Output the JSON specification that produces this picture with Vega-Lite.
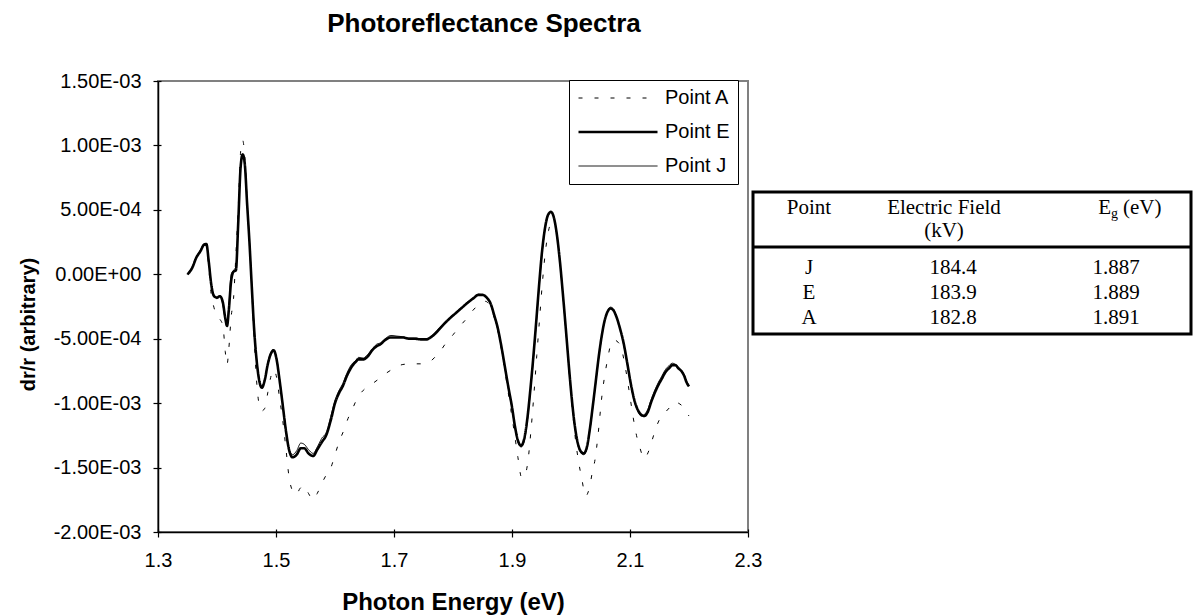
{
  "$schema": "https://vega.github.io/schema/vega-lite/v6.json",
  "background": "white",
  "padding": {"left": 17, "top": 10, "right": 0, "bottom": 0},
  "bounds": "flush",
  "spacing": 5,
  "config": {"font": "Liberation Sans", "view": {"stroke": null}},
  "datasets": {
    "spectra": [
      {"E":1.350,"v":0,"s":"Point E"},{"E":1.358,"v":5e-5,"s":"Point E"},{"E":1.365,"v":1.3e-4,"s":"Point E"},{"E":1.372,"v":1.8e-4,"s":"Point E"},{"E":1.378,"v":2.3e-4,"s":"Point E"},{"E":1.382,"v":2.35e-4,"s":"Point E"},{"E":1.386,"v":1.0e-4,"s":"Point E"},{"E":1.390,"v":-7e-5,"s":"Point E"},{"E":1.395,"v":-1.7e-4,"s":"Point E"},{"E":1.400,"v":-1.8e-4,"s":"Point E"},{"E":1.405,"v":-1.7e-4,"s":"Point E"},{"E":1.410,"v":-2.2e-4,"s":"Point E"},{"E":1.414,"v":-3.4e-4,"s":"Point E"},{"E":1.417,"v":-4.0e-4,"s":"Point E"},{"E":1.420,"v":-2.8e-4,"s":"Point E"},{"E":1.424,"v":-5e-5,"s":"Point E"},{"E":1.428,"v":2e-5,"s":"Point E"},{"E":1.432,"v":3e-5,"s":"Point E"},{"E":1.436,"v":4.0e-4,"s":"Point E"},{"E":1.440,"v":8.3e-4,"s":"Point E"},{"E":1.4435,"v":9.3e-4,"s":"Point E"},{"E":1.447,"v":8.6e-4,"s":"Point E"},{"E":1.451,"v":5.5e-4,"s":"Point E"},{"E":1.455,"v":2.5e-4,"s":"Point E"},{"E":1.459,"v":-1.0e-4,"s":"Point E"},{"E":1.463,"v":-4.3e-4,"s":"Point E"},{"E":1.467,"v":-6.6e-4,"s":"Point E"},{"E":1.471,"v":-8.1e-4,"s":"Point E"},{"E":1.476,"v":-8.8e-4,"s":"Point E"},{"E":1.481,"v":-8.2e-4,"s":"Point E"},{"E":1.486,"v":-7.0e-4,"s":"Point E"},{"E":1.491,"v":-6.2e-4,"s":"Point E"},{"E":1.496,"v":-5.9e-4,"s":"Point E"},{"E":1.501,"v":-6.6e-4,"s":"Point E"},{"E":1.506,"v":-8.2e-4,"s":"Point E"},{"E":1.511,"v":-1.0e-3,"s":"Point E"},{"E":1.517,"v":-1.22e-3,"s":"Point E"},{"E":1.522,"v":-1.36e-3,"s":"Point E"},{"E":1.528,"v":-1.42e-3,"s":"Point E"},{"E":1.535,"v":-1.40e-3,"s":"Point E"},{"E":1.542,"v":-1.35e-3,"s":"Point E"},{"E":1.548,"v":-1.35e-3,"s":"Point E"},{"E":1.555,"v":-1.39e-3,"s":"Point E"},{"E":1.563,"v":-1.41e-3,"s":"Point E"},{"E":1.570,"v":-1.36e-3,"s":"Point E"},{"E":1.578,"v":-1.30e-3,"s":"Point E"},{"E":1.585,"v":-1.25e-3,"s":"Point E"},{"E":1.593,"v":-1.13e-3,"s":"Point E"},{"E":1.600,"v":-1.00e-3,"s":"Point E"},{"E":1.607,"v":-9.2e-4,"s":"Point E"},{"E":1.613,"v":-8.7e-4,"s":"Point E"},{"E":1.620,"v":-7.9e-4,"s":"Point E"},{"E":1.628,"v":-7.2e-4,"s":"Point E"},{"E":1.635,"v":-6.8e-4,"s":"Point E"},{"E":1.640,"v":-6.6e-4,"s":"Point E"},{"E":1.648,"v":-6.6e-4,"s":"Point E"},{"E":1.655,"v":-6.4e-4,"s":"Point E"},{"E":1.663,"v":-5.9e-4,"s":"Point E"},{"E":1.670,"v":-5.6e-4,"s":"Point E"},{"E":1.678,"v":-5.4e-4,"s":"Point E"},{"E":1.685,"v":-5.1e-4,"s":"Point E"},{"E":1.695,"v":-4.9e-4,"s":"Point E"},{"E":1.705,"v":-4.9e-4,"s":"Point E"},{"E":1.715,"v":-4.9e-4,"s":"Point E"},{"E":1.725,"v":-5.0e-4,"s":"Point E"},{"E":1.735,"v":-5.0e-4,"s":"Point E"},{"E":1.745,"v":-5.05e-4,"s":"Point E"},{"E":1.755,"v":-5.05e-4,"s":"Point E"},{"E":1.762,"v":-4.9e-4,"s":"Point E"},{"E":1.770,"v":-4.6e-4,"s":"Point E"},{"E":1.778,"v":-4.2e-4,"s":"Point E"},{"E":1.786,"v":-3.8e-4,"s":"Point E"},{"E":1.795,"v":-3.4e-4,"s":"Point E"},{"E":1.805,"v":-3.0e-4,"s":"Point E"},{"E":1.815,"v":-2.6e-4,"s":"Point E"},{"E":1.825,"v":-2.2e-4,"s":"Point E"},{"E":1.835,"v":-1.85e-4,"s":"Point E"},{"E":1.843,"v":-1.6e-4,"s":"Point E"},{"E":1.850,"v":-1.6e-4,"s":"Point E"},{"E":1.857,"v":-1.8e-4,"s":"Point E"},{"E":1.864,"v":-2.3e-4,"s":"Point E"},{"E":1.870,"v":-3.2e-4,"s":"Point E"},{"E":1.876,"v":-4.2e-4,"s":"Point E"},{"E":1.882,"v":-5.6e-4,"s":"Point E"},{"E":1.888,"v":-7.2e-4,"s":"Point E"},{"E":1.894,"v":-8.8e-4,"s":"Point E"},{"E":1.900,"v":-1.03e-3,"s":"Point E"},{"E":1.905,"v":-1.18e-3,"s":"Point E"},{"E":1.910,"v":-1.29e-3,"s":"Point E"},{"E":1.9155,"v":-1.33e-3,"s":"Point E"},{"E":1.921,"v":-1.27e-3,"s":"Point E"},{"E":1.926,"v":-1.12e-3,"s":"Point E"},{"E":1.931,"v":-9.0e-4,"s":"Point E"},{"E":1.936,"v":-6.5e-4,"s":"Point E"},{"E":1.941,"v":-3.7e-4,"s":"Point E"},{"E":1.946,"v":-8e-5,"s":"Point E"},{"E":1.951,"v":1.8e-4,"s":"Point E"},{"E":1.956,"v":3.6e-4,"s":"Point E"},{"E":1.961,"v":4.6e-4,"s":"Point E"},{"E":1.966,"v":4.85e-4,"s":"Point E"},{"E":1.971,"v":4.4e-4,"s":"Point E"},{"E":1.976,"v":3.1e-4,"s":"Point E"},{"E":1.981,"v":1.1e-4,"s":"Point E"},{"E":1.986,"v":-1.4e-4,"s":"Point E"},{"E":1.991,"v":-4.1e-4,"s":"Point E"},{"E":1.996,"v":-6.9e-4,"s":"Point E"},{"E":2.001,"v":-9.5e-4,"s":"Point E"},{"E":2.006,"v":-1.16e-3,"s":"Point E"},{"E":2.011,"v":-1.30e-3,"s":"Point E"},{"E":2.016,"v":-1.37e-3,"s":"Point E"},{"E":2.0215,"v":-1.39e-3,"s":"Point E"},{"E":2.027,"v":-1.34e-3,"s":"Point E"},{"E":2.032,"v":-1.20e-3,"s":"Point E"},{"E":2.037,"v":-1.02e-3,"s":"Point E"},{"E":2.042,"v":-8.3e-4,"s":"Point E"},{"E":2.047,"v":-6.4e-4,"s":"Point E"},{"E":2.052,"v":-4.8e-4,"s":"Point E"},{"E":2.057,"v":-3.6e-4,"s":"Point E"},{"E":2.062,"v":-2.9e-4,"s":"Point E"},{"E":2.067,"v":-2.65e-4,"s":"Point E"},{"E":2.072,"v":-2.8e-4,"s":"Point E"},{"E":2.077,"v":-3.3e-4,"s":"Point E"},{"E":2.083,"v":-4.2e-4,"s":"Point E"},{"E":2.089,"v":-5.3e-4,"s":"Point E"},{"E":2.095,"v":-6.8e-4,"s":"Point E"},{"E":2.101,"v":-8.4e-4,"s":"Point E"},{"E":2.107,"v":-9.7e-4,"s":"Point E"},{"E":2.113,"v":-1.05e-3,"s":"Point E"},{"E":2.119,"v":-1.09e-3,"s":"Point E"},{"E":2.124,"v":-1.10e-3,"s":"Point E"},{"E":2.130,"v":-1.07e-3,"s":"Point E"},{"E":2.136,"v":-9.9e-4,"s":"Point E"},{"E":2.142,"v":-9.2e-4,"s":"Point E"},{"E":2.148,"v":-8.6e-4,"s":"Point E"},{"E":2.154,"v":-8.1e-4,"s":"Point E"},{"E":2.160,"v":-7.6e-4,"s":"Point E"},{"E":2.166,"v":-7.3e-4,"s":"Point E"},{"E":2.172,"v":-7.05e-4,"s":"Point E"},{"E":2.177,"v":-7.05e-4,"s":"Point E"},{"E":2.182,"v":-7.3e-4,"s":"Point E"},{"E":2.187,"v":-7.5e-4,"s":"Point E"},{"E":2.192,"v":-7.9e-4,"s":"Point E"},{"E":2.196,"v":-8.4e-4,"s":"Point E"},{"E":2.200,"v":-8.7e-4,"s":"Point E"},

      {"E":1.350,"v":0,"s":"Point J"},{"E":1.358,"v":6e-5,"s":"Point J"},{"E":1.365,"v":1.35e-4,"s":"Point J"},{"E":1.372,"v":1.9e-4,"s":"Point J"},{"E":1.378,"v":2.35e-4,"s":"Point J"},{"E":1.382,"v":2.3e-4,"s":"Point J"},{"E":1.386,"v":1.1e-4,"s":"Point J"},{"E":1.390,"v":-6e-5,"s":"Point J"},{"E":1.395,"v":-1.6e-4,"s":"Point J"},{"E":1.400,"v":-1.9e-4,"s":"Point J"},{"E":1.405,"v":-1.65e-4,"s":"Point J"},{"E":1.410,"v":-2.4e-4,"s":"Point J"},{"E":1.414,"v":-3.5e-4,"s":"Point J"},{"E":1.417,"v":-3.9e-4,"s":"Point J"},{"E":1.420,"v":-2.5e-4,"s":"Point J"},{"E":1.424,"v":0,"s":"Point J"},{"E":1.428,"v":3e-5,"s":"Point J"},{"E":1.432,"v":6e-5,"s":"Point J"},{"E":1.436,"v":4.1e-4,"s":"Point J"},{"E":1.440,"v":8.4e-4,"s":"Point J"},{"E":1.4435,"v":9.35e-4,"s":"Point J"},{"E":1.447,"v":8.7e-4,"s":"Point J"},{"E":1.451,"v":5.6e-4,"s":"Point J"},{"E":1.455,"v":2.6e-4,"s":"Point J"},{"E":1.459,"v":-9e-5,"s":"Point J"},{"E":1.463,"v":-4.2e-4,"s":"Point J"},{"E":1.467,"v":-6.5e-4,"s":"Point J"},{"E":1.471,"v":-8.0e-4,"s":"Point J"},{"E":1.476,"v":-8.7e-4,"s":"Point J"},{"E":1.481,"v":-8.1e-4,"s":"Point J"},{"E":1.486,"v":-6.9e-4,"s":"Point J"},{"E":1.491,"v":-6.1e-4,"s":"Point J"},{"E":1.496,"v":-5.85e-4,"s":"Point J"},{"E":1.501,"v":-6.5e-4,"s":"Point J"},{"E":1.506,"v":-8.1e-4,"s":"Point J"},{"E":1.511,"v":-9.9e-4,"s":"Point J"},{"E":1.517,"v":-1.21e-3,"s":"Point J"},{"E":1.522,"v":-1.35e-3,"s":"Point J"},{"E":1.528,"v":-1.40e-3,"s":"Point J"},{"E":1.535,"v":-1.37e-3,"s":"Point J"},{"E":1.542,"v":-1.31e-3,"s":"Point J"},{"E":1.548,"v":-1.32e-3,"s":"Point J"},{"E":1.555,"v":-1.36e-3,"s":"Point J"},{"E":1.563,"v":-1.39e-3,"s":"Point J"},{"E":1.570,"v":-1.34e-3,"s":"Point J"},{"E":1.578,"v":-1.27e-3,"s":"Point J"},{"E":1.585,"v":-1.23e-3,"s":"Point J"},{"E":1.593,"v":-1.10e-3,"s":"Point J"},{"E":1.600,"v":-9.8e-4,"s":"Point J"},{"E":1.607,"v":-9.0e-4,"s":"Point J"},{"E":1.613,"v":-8.5e-4,"s":"Point J"},{"E":1.620,"v":-7.7e-4,"s":"Point J"},{"E":1.628,"v":-7.0e-4,"s":"Point J"},{"E":1.635,"v":-6.7e-4,"s":"Point J"},{"E":1.640,"v":-6.45e-4,"s":"Point J"},{"E":1.648,"v":-6.5e-4,"s":"Point J"},{"E":1.655,"v":-6.25e-4,"s":"Point J"},{"E":1.663,"v":-5.8e-4,"s":"Point J"},{"E":1.670,"v":-5.45e-4,"s":"Point J"},{"E":1.678,"v":-5.3e-4,"s":"Point J"},{"E":1.685,"v":-5.0e-4,"s":"Point J"},{"E":1.695,"v":-4.75e-4,"s":"Point J"},{"E":1.705,"v":-4.8e-4,"s":"Point J"},{"E":1.715,"v":-4.85e-4,"s":"Point J"},{"E":1.725,"v":-4.95e-4,"s":"Point J"},{"E":1.735,"v":-4.95e-4,"s":"Point J"},{"E":1.745,"v":-5.0e-4,"s":"Point J"},{"E":1.755,"v":-5.0e-4,"s":"Point J"},{"E":1.762,"v":-4.85e-4,"s":"Point J"},{"E":1.770,"v":-4.5e-4,"s":"Point J"},{"E":1.778,"v":-4.1e-4,"s":"Point J"},{"E":1.786,"v":-3.75e-4,"s":"Point J"},{"E":1.795,"v":-3.35e-4,"s":"Point J"},{"E":1.805,"v":-2.95e-4,"s":"Point J"},{"E":1.815,"v":-2.55e-4,"s":"Point J"},{"E":1.825,"v":-2.15e-4,"s":"Point J"},{"E":1.835,"v":-1.8e-4,"s":"Point J"},{"E":1.843,"v":-1.55e-4,"s":"Point J"},{"E":1.850,"v":-1.6e-4,"s":"Point J"},{"E":1.857,"v":-1.85e-4,"s":"Point J"},{"E":1.864,"v":-2.4e-4,"s":"Point J"},{"E":1.870,"v":-3.3e-4,"s":"Point J"},{"E":1.876,"v":-4.3e-4,"s":"Point J"},{"E":1.882,"v":-5.7e-4,"s":"Point J"},{"E":1.888,"v":-7.3e-4,"s":"Point J"},{"E":1.894,"v":-8.9e-4,"s":"Point J"},{"E":1.900,"v":-1.04e-3,"s":"Point J"},{"E":1.905,"v":-1.19e-3,"s":"Point J"},{"E":1.910,"v":-1.30e-3,"s":"Point J"},{"E":1.9155,"v":-1.34e-3,"s":"Point J"},{"E":1.921,"v":-1.29e-3,"s":"Point J"},{"E":1.926,"v":-1.14e-3,"s":"Point J"},{"E":1.931,"v":-9.2e-4,"s":"Point J"},{"E":1.936,"v":-6.7e-4,"s":"Point J"},{"E":1.941,"v":-3.9e-4,"s":"Point J"},{"E":1.946,"v":-1.0e-4,"s":"Point J"},{"E":1.951,"v":1.6e-4,"s":"Point J"},{"E":1.956,"v":3.5e-4,"s":"Point J"},{"E":1.961,"v":4.5e-4,"s":"Point J"},{"E":1.966,"v":4.8e-4,"s":"Point J"},{"E":1.971,"v":4.4e-4,"s":"Point J"},{"E":1.976,"v":3.1e-4,"s":"Point J"},{"E":1.981,"v":1.1e-4,"s":"Point J"},{"E":1.986,"v":-1.5e-4,"s":"Point J"},{"E":1.991,"v":-4.2e-4,"s":"Point J"},{"E":1.996,"v":-7.0e-4,"s":"Point J"},{"E":2.001,"v":-9.6e-4,"s":"Point J"},{"E":2.006,"v":-1.17e-3,"s":"Point J"},{"E":2.011,"v":-1.31e-3,"s":"Point J"},{"E":2.016,"v":-1.38e-3,"s":"Point J"},{"E":2.0215,"v":-1.40e-3,"s":"Point J"},{"E":2.027,"v":-1.35e-3,"s":"Point J"},{"E":2.032,"v":-1.21e-3,"s":"Point J"},{"E":2.037,"v":-1.03e-3,"s":"Point J"},{"E":2.042,"v":-8.4e-4,"s":"Point J"},{"E":2.047,"v":-6.5e-4,"s":"Point J"},{"E":2.052,"v":-4.9e-4,"s":"Point J"},{"E":2.057,"v":-3.6e-4,"s":"Point J"},{"E":2.062,"v":-2.85e-4,"s":"Point J"},{"E":2.067,"v":-2.55e-4,"s":"Point J"},{"E":2.072,"v":-2.7e-4,"s":"Point J"},{"E":2.077,"v":-3.3e-4,"s":"Point J"},{"E":2.083,"v":-4.2e-4,"s":"Point J"},{"E":2.089,"v":-5.4e-4,"s":"Point J"},{"E":2.095,"v":-6.9e-4,"s":"Point J"},{"E":2.101,"v":-8.5e-4,"s":"Point J"},{"E":2.107,"v":-9.8e-4,"s":"Point J"},{"E":2.113,"v":-1.06e-3,"s":"Point J"},{"E":2.119,"v":-1.10e-3,"s":"Point J"},{"E":2.124,"v":-1.09e-3,"s":"Point J"},{"E":2.130,"v":-1.05e-3,"s":"Point J"},{"E":2.136,"v":-9.7e-4,"s":"Point J"},{"E":2.142,"v":-9.0e-4,"s":"Point J"},{"E":2.148,"v":-8.4e-4,"s":"Point J"},{"E":2.154,"v":-7.9e-4,"s":"Point J"},{"E":2.160,"v":-7.4e-4,"s":"Point J"},{"E":2.166,"v":-7.1e-4,"s":"Point J"},{"E":2.172,"v":-6.9e-4,"s":"Point J"},{"E":2.177,"v":-7.0e-4,"s":"Point J"},{"E":2.182,"v":-7.2e-4,"s":"Point J"},{"E":2.187,"v":-7.5e-4,"s":"Point J"},{"E":2.192,"v":-7.8e-4,"s":"Point J"},{"E":2.196,"v":-8.3e-4,"s":"Point J"},{"E":2.200,"v":-8.6e-4,"s":"Point J"},

      {"E":1.350,"v":0,"s":"Point A"},{"E":1.358,"v":5e-5,"s":"Point A"},{"E":1.365,"v":1.3e-4,"s":"Point A"},{"E":1.372,"v":1.8e-4,"s":"Point A"},{"E":1.378,"v":2.25e-4,"s":"Point A"},{"E":1.382,"v":2.2e-4,"s":"Point A"},{"E":1.386,"v":5e-5,"s":"Point A"},{"E":1.390,"v":-1.5e-4,"s":"Point A"},{"E":1.395,"v":-2.6e-4,"s":"Point A"},{"E":1.400,"v":-3.3e-4,"s":"Point A"},{"E":1.405,"v":-3.5e-4,"s":"Point A"},{"E":1.410,"v":-4.0e-4,"s":"Point A"},{"E":1.414,"v":-6.0e-4,"s":"Point A"},{"E":1.417,"v":-7.0e-4,"s":"Point A"},{"E":1.420,"v":-5.8e-4,"s":"Point A"},{"E":1.424,"v":-3.3e-4,"s":"Point A"},{"E":1.428,"v":-1.9e-4,"s":"Point A"},{"E":1.432,"v":1.5e-4,"s":"Point A"},{"E":1.436,"v":5.2e-4,"s":"Point A"},{"E":1.440,"v":9.5e-4,"s":"Point A"},{"E":1.4435,"v":1.04e-3,"s":"Point A"},{"E":1.447,"v":9.2e-4,"s":"Point A"},{"E":1.451,"v":5.8e-4,"s":"Point A"},{"E":1.455,"v":2.5e-4,"s":"Point A"},{"E":1.459,"v":-1.3e-4,"s":"Point A"},{"E":1.463,"v":-5.0e-4,"s":"Point A"},{"E":1.467,"v":-8.2e-4,"s":"Point A"},{"E":1.471,"v":-1.0e-3,"s":"Point A"},{"E":1.476,"v":-1.06e-3,"s":"Point A"},{"E":1.481,"v":-1.04e-3,"s":"Point A"},{"E":1.486,"v":-9.2e-4,"s":"Point A"},{"E":1.491,"v":-8.0e-4,"s":"Point A"},{"E":1.496,"v":-7.4e-4,"s":"Point A"},{"E":1.501,"v":-8.0e-4,"s":"Point A"},{"E":1.506,"v":-9.6e-4,"s":"Point A"},{"E":1.511,"v":-1.12e-3,"s":"Point A"},{"E":1.517,"v":-1.36e-3,"s":"Point A"},{"E":1.522,"v":-1.57e-3,"s":"Point A"},{"E":1.528,"v":-1.68e-3,"s":"Point A"},{"E":1.534,"v":-1.71e-3,"s":"Point A"},{"E":1.541,"v":-1.66e-3,"s":"Point A"},{"E":1.548,"v":-1.64e-3,"s":"Point A"},{"E":1.555,"v":-1.70e-3,"s":"Point A"},{"E":1.563,"v":-1.75e-3,"s":"Point A"},{"E":1.570,"v":-1.70e-3,"s":"Point A"},{"E":1.578,"v":-1.62e-3,"s":"Point A"},{"E":1.586,"v":-1.55e-3,"s":"Point A"},{"E":1.593,"v":-1.50e-3,"s":"Point A"},{"E":1.600,"v":-1.40e-3,"s":"Point A"},{"E":1.607,"v":-1.30e-3,"s":"Point A"},{"E":1.615,"v":-1.21e-3,"s":"Point A"},{"E":1.622,"v":-1.12e-3,"s":"Point A"},{"E":1.630,"v":-1.04e-3,"s":"Point A"},{"E":1.638,"v":-9.6e-4,"s":"Point A"},{"E":1.648,"v":-9.0e-4,"s":"Point A"},{"E":1.660,"v":-8.6e-4,"s":"Point A"},{"E":1.672,"v":-8.2e-4,"s":"Point A"},{"E":1.686,"v":-7.7e-4,"s":"Point A"},{"E":1.700,"v":-7.3e-4,"s":"Point A"},{"E":1.715,"v":-7.0e-4,"s":"Point A"},{"E":1.730,"v":-6.95e-4,"s":"Point A"},{"E":1.745,"v":-6.95e-4,"s":"Point A"},{"E":1.760,"v":-6.8e-4,"s":"Point A"},{"E":1.770,"v":-6.4e-4,"s":"Point A"},{"E":1.781,"v":-5.8e-4,"s":"Point A"},{"E":1.790,"v":-5.2e-4,"s":"Point A"},{"E":1.800,"v":-4.7e-4,"s":"Point A"},{"E":1.810,"v":-4.1e-4,"s":"Point A"},{"E":1.820,"v":-3.6e-4,"s":"Point A"},{"E":1.830,"v":-3.0e-4,"s":"Point A"},{"E":1.840,"v":-2.5e-4,"s":"Point A"},{"E":1.848,"v":-2.2e-4,"s":"Point A"},{"E":1.855,"v":-2.1e-4,"s":"Point A"},{"E":1.862,"v":-2.4e-4,"s":"Point A"},{"E":1.868,"v":-3.1e-4,"s":"Point A"},{"E":1.874,"v":-4.0e-4,"s":"Point A"},{"E":1.880,"v":-5.3e-4,"s":"Point A"},{"E":1.886,"v":-6.9e-4,"s":"Point A"},{"E":1.892,"v":-8.7e-4,"s":"Point A"},{"E":1.898,"v":-1.05e-3,"s":"Point A"},{"E":1.904,"v":-1.23e-3,"s":"Point A"},{"E":1.910,"v":-1.42e-3,"s":"Point A"},{"E":1.9165,"v":-1.58e-3,"s":"Point A"},{"E":1.922,"v":-1.56e-3,"s":"Point A"},{"E":1.927,"v":-1.45e-3,"s":"Point A"},{"E":1.932,"v":-1.22e-3,"s":"Point A"},{"E":1.937,"v":-9.4e-4,"s":"Point A"},{"E":1.942,"v":-6.3e-4,"s":"Point A"},{"E":1.947,"v":-3.3e-4,"s":"Point A"},{"E":1.952,"v":-4e-5,"s":"Point A"},{"E":1.957,"v":1.9e-4,"s":"Point A"},{"E":1.962,"v":3.4e-4,"s":"Point A"},{"E":1.967,"v":4.0e-4,"s":"Point A"},{"E":1.972,"v":3.8e-4,"s":"Point A"},{"E":1.977,"v":2.7e-4,"s":"Point A"},{"E":1.982,"v":7e-5,"s":"Point A"},{"E":1.987,"v":-1.8e-4,"s":"Point A"},{"E":1.992,"v":-4.7e-4,"s":"Point A"},{"E":1.997,"v":-7.6e-4,"s":"Point A"},{"E":2.002,"v":-1.03e-3,"s":"Point A"},{"E":2.007,"v":-1.26e-3,"s":"Point A"},{"E":2.012,"v":-1.43e-3,"s":"Point A"},{"E":2.018,"v":-1.58e-3,"s":"Point A"},{"E":2.025,"v":-1.72e-3,"s":"Point A"},{"E":2.031,"v":-1.66e-3,"s":"Point A"},{"E":2.036,"v":-1.54e-3,"s":"Point A"},{"E":2.041,"v":-1.43e-3,"s":"Point A"},{"E":2.046,"v":-1.24e-3,"s":"Point A"},{"E":2.052,"v":-9.6e-4,"s":"Point A"},{"E":2.057,"v":-7.9e-4,"s":"Point A"},{"E":2.062,"v":-6.6e-4,"s":"Point A"},{"E":2.067,"v":-5.5e-4,"s":"Point A"},{"E":2.073,"v":-5.1e-4,"s":"Point A"},{"E":2.078,"v":-5.2e-4,"s":"Point A"},{"E":2.085,"v":-5.7e-4,"s":"Point A"},{"E":2.092,"v":-7.2e-4,"s":"Point A"},{"E":2.099,"v":-9.2e-4,"s":"Point A"},{"E":2.105,"v":-1.10e-3,"s":"Point A"},{"E":2.111,"v":-1.25e-3,"s":"Point A"},{"E":2.117,"v":-1.35e-3,"s":"Point A"},{"E":2.124,"v":-1.43e-3,"s":"Point A"},{"E":2.131,"v":-1.38e-3,"s":"Point A"},{"E":2.138,"v":-1.28e-3,"s":"Point A"},{"E":2.145,"v":-1.18e-3,"s":"Point A"},{"E":2.152,"v":-1.11e-3,"s":"Point A"},{"E":2.160,"v":-1.07e-3,"s":"Point A"},{"E":2.168,"v":-1.03e-3,"s":"Point A"},{"E":2.176,"v":-9.9e-4,"s":"Point A"},{"E":2.182,"v":-1.0e-3,"s":"Point A"},{"E":2.188,"v":-1.02e-3,"s":"Point A"},{"E":2.194,"v":-1.06e-3,"s":"Point A"},{"E":2.200,"v":-1.10e-3,"s":"Point A"}
    ],
    "cells": [
      {"row":"J","col":"Point","text":"J"},{"row":"J","col":"Field","text":"184.4"},{"row":"J","col":"Eg","text":"1.887"},
      {"row":"E","col":"Point","text":"E"},{"row":"E","col":"Field","text":"183.9"},{"row":"E","col":"Eg","text":"1.889"},
      {"row":"A","col":"Point","text":"A"},{"row":"A","col":"Field","text":"182.8"},{"row":"A","col":"Eg","text":"1.891"}
    ],
    "header": [
      {"row":"H","col":"Point","text":"Point"},
      {"row":"H","col":"Field","text":"Electric Field\n(kV)"}
    ],
    "egHeader": [
      {"row":"H","col":"Eg","main":"E","sub":"g","unit":"(eV)"}
    ]
  },
  "hconcat": [
    {
      "width": 590,
      "height": 451,
      "view": {"stroke": "#808080", "strokeWidth": 2},
      "title": {"text": "Photoreflectance Spectra", "font": "Liberation Sans", "fontSize": 26, "fontWeight": "bold", "color": "black", "anchor": "middle", "frame": "group", "dx": 31, "offset": 13, "baseline": "alphabetic"},
      "data": {"name": "spectra"},
      "resolve": {"axis": {"x": "independent", "y": "independent"}},
      "layer": [
        {
          "mark": {"type": "line", "interpolate": "monotone", "color": "black"},
          "encoding": {
            "x": {"field": "E", "type": "quantitative", "scale": {"domain": [1.3, 2.3], "nice": false, "zero": false},
              "axis": {"orient": "bottom", "values": [1.3, 1.5, 1.7, 1.9, 2.1, 2.3], "format": ".1f", "grid": false,
                "title": "Photon Energy (eV)", "titleFont": "Liberation Sans", "titleFontSize": 24, "titleFontWeight": "bold", "titleColor": "black",
                "titleBaseline": "alphabetic", "titleY": 77,
                "labelFont": "Liberation Sans", "labelFontSize": 20, "labelColor": "black", "labelPadding": 13, "labelFlush": false, "labelOverlap": false,
                "tickSize": 5, "tickColor": "black", "tickWidth": 1.2, "domainColor": "black", "domainWidth": 1.5}},
            "y": {"field": "v", "type": "quantitative", "scale": {"domain": [-0.002, 0.0015], "nice": false, "zero": false},
              "axis": {"orient": "left", "values": [-0.002, -0.0015, -0.001, -0.0005, 0, 0.0005, 0.001, 0.0015], "grid": false,
                "labelExpr": "datum.value == 0 ? '0.00E+00' : (datum.value < 0 ? '-' : '') + format(abs(datum.value) / pow(10, floor(log(abs(datum.value)) / LN10 + 1e-9)), '.2f') + 'E' + (floor(log(abs(datum.value)) / LN10 + 1e-9) < 0 ? '-' : '+') + format(abs(floor(log(abs(datum.value)) / LN10 + 1e-9)), '02d')",
                "title": "dr/r (arbitrary)", "titleFont": "Liberation Sans", "titleFontSize": 20, "titleFontWeight": "bold", "titleColor": "black",
                "titleAngle": 270, "titleBaseline": "bottom", "titleAlign": "center", "titleX": -120, "titleY": 243,
                "labelFont": "Liberation Sans", "labelFontSize": 20, "labelColor": "black", "labelPadding": 12,
                "tickSize": 5, "tickColor": "black", "tickWidth": 1.2, "domainColor": "black", "domainWidth": 1.5}},
            "detail": {"field": "s", "type": "nominal"},
            "strokeDash": {"field": "s", "type": "nominal",
              "scale": {"domain": ["Point A", "Point E", "Point J"], "range": [[4, 12], [1, 0], [1, 0]]},
              "legend": {"title": null, "orient": "none", "legendX": 411, "legendY": -1, "fillColor": "white", "strokeColor": "black", "padding": 8,
                "symbolType": "stroke", "symbolSize": 6241, "symbolStrokeColor": "black", "labelFont": "Liberation Sans", "labelFontSize": 20, "labelColor": "black",
                "labelOffset": 6, "clipHeight": 20, "rowPadding": 14}},
            "strokeWidth": {"field": "s", "type": "nominal",
              "scale": {"type": "ordinal", "domain": ["Point A", "Point E", "Point J"], "range": [1, 2.6, 1]},
              "legend": {"title": null, "orient": "none", "legendX": 411, "legendY": -1, "fillColor": "white", "strokeColor": "black", "padding": 8,
                "symbolType": "stroke", "symbolSize": 6241, "symbolStrokeColor": "black", "labelFont": "Liberation Sans", "labelFontSize": 20, "labelColor": "black",
                "labelOffset": 6, "clipHeight": 20, "rowPadding": 14}}
          }
        },
        {
          "mark": {"type": "point", "opacity": 0},
          "encoding": {
            "x": {"field": "E", "type": "quantitative", "axis": {"orient": "bottom", "values": [1.3, 1.5, 1.7, 1.9, 2.1, 2.3], "labels": false, "domain": false, "grid": false, "title": null, "tickSize": -3, "tickColor": "black", "tickWidth": 1.2}},
            "y": {"field": "v", "type": "quantitative", "axis": {"orient": "left", "values": [-0.002, -0.0015, -0.001, -0.0005, 0, 0.0005, 0.001, 0.0015], "labels": false, "domain": false, "grid": false, "title": null, "tickSize": -3, "tickColor": "black", "tickWidth": 1.2}}
          }
        }
      ]
    },
    {
      "bounds": "flush",
      "spacing": 5,
      "vconcat": [
        {
          "width": 438,
          "height": 106,
          "data": {"values": [{}]},
          "mark": {"type": "text", "text": ""}
        },
        {
          "width": 438,
          "height": 142,
          "view": {"stroke": "black", "strokeWidth": 3},
          "encoding": {
            "x": {"field": "col", "type": "nominal", "scale": {"domain": ["Point", "Field", "Eg"], "paddingInner": 0, "paddingOuter": 0}, "axis": null},
            "y": {"field": "row", "type": "nominal", "scale": {"domain": ["H", "J", "E", "A"], "paddingInner": 0, "paddingOuter": 0.84, "align": 0.714}, "axis": null}
          },
          "layer": [
            {
              "data": {"values": [{}]},
              "mark": {"type": "rule", "color": "black", "strokeWidth": 3},
              "encoding": {"x": null, "y": {"datum": "J", "type": "nominal", "bandPosition": 0}}
            },
            {
              "data": {"name": "cells"},
              "mark": {"type": "text", "font": "Liberation Serif", "fontSize": 21, "color": "black", "baseline": "alphabetic", "align": "center", "dy": 14.5,
                "dx": {"expr": "datum.col === 'Point' ? -17 : datum.col === 'Field' ? -19 : -2"}},
              "encoding": {"text": {"field": "text"}}
            },
            {
              "data": {"name": "header"},
              "mark": {"type": "text", "font": "Liberation Serif", "fontSize": 21, "color": "black", "baseline": "alphabetic", "align": "center", "lineBreak": "\n", "lineHeight": 23, "dy": -20.5,
                "dx": {"expr": "datum.col === 'Point' ? -17 : -28"}},
              "encoding": {"text": {"field": "text"}}
            },
            {
              "data": {"name": "egHeader"},
              "mark": {"type": "text", "font": "Liberation Serif", "fontSize": 21, "color": "black", "baseline": "alphabetic", "align": "right", "dy": -20.5, "dx": -7},
              "encoding": {"text": {"field": "main"}}
            },
            {
              "data": {"name": "egHeader"},
              "mark": {"type": "text", "font": "Liberation Serif", "fontSize": 14, "color": "black", "baseline": "alphabetic", "align": "left", "dy": -16, "dx": -7},
              "encoding": {"text": {"field": "sub"}}
            },
            {
              "data": {"name": "egHeader"},
              "mark": {"type": "text", "font": "Liberation Serif", "fontSize": 21, "color": "black", "baseline": "alphabetic", "align": "left", "dy": -20.5, "dx": 5},
              "encoding": {"text": {"field": "unit"}}
            }
          ]
        }
      ]
    }
  ]
}
